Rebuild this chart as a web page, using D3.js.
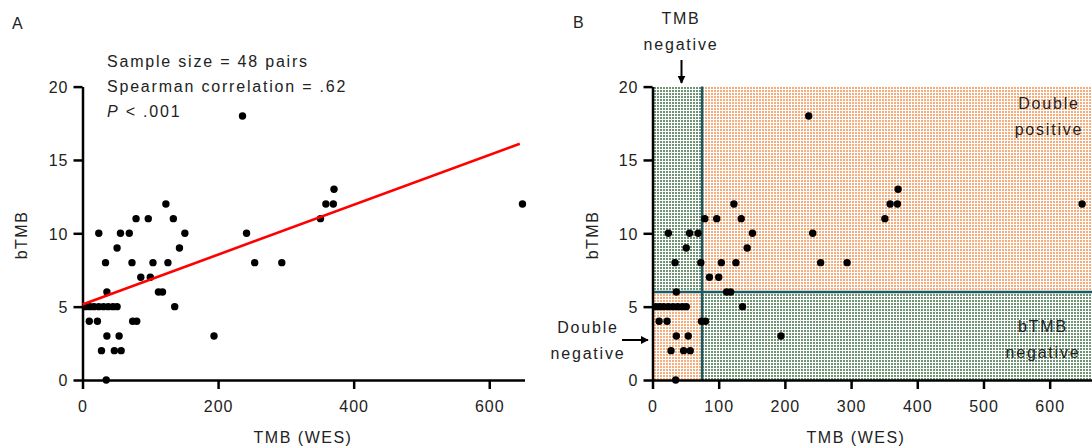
<!DOCTYPE html>
<html>
<head>
<meta charset="utf-8">
<script src="https://cdn.jsdelivr.net/npm/d3@7/dist/d3.min.js"></script>
<style>
  body { margin: 0; background: #fff; }
  text { font-family: "Liberation Sans", Arial, sans-serif; }
</style>
</head>
<body>
<svg width="1092" height="448"></svg>
<script>
// TMB (WES) vs bTMB, 48 pairs, same values in both panels
var tmbWes = [236, 371, 123, 359, 370, 649, 79, 97, 134, 351,
  24, 56, 69, 151, 242, 51, 143, 34, 73, 104, 126, 254, 294,
  86, 100, 36, 112, 118, 5, 11, 17, 24, 31, 38, 45, 51, 136,
  10, 22, 74, 80, 36, 54, 194, 28, 47, 57, 35];
var bTmb = [18, 13, 12, 12, 12, 12, 11, 11, 11, 11,
  10, 10, 10, 10, 10, 9, 9, 8, 8, 8, 8, 8, 8,
  7, 7, 6, 6, 6, 5, 5, 5, 5, 5, 5, 5, 5, 5,
  4, 4, 4, 4, 3, 3, 3, 2, 2, 2, 0];

// regression line end points
var fitX = [0, 645];
var fitY = [5.15, 16.1];

var statLines = ["Sample size = 48 pairs", "Spearman correlation = .62", "< .001"];
var yTicks = [0, 5, 10, 15, 20];
var xTicksA = [0, 200, 400, 600];
var xTicksB = [0, 100, 200, 300, 400, 500, 600];

// cut-offs for panel B
var tmbCut = 75;
var btmbCut = 6;

var svg = d3.select("svg");
svg.append("rect").attr("width", 1092).attr("height", 448).attr("fill", "#fff");

var defs = svg.append("defs");
function dots(id, color) {
  var p = defs.append("pattern").attr("id", id)
    .attr("width", 3).attr("height", 3)
    .attr("patternUnits", "userSpaceOnUse");
  p.append("rect").attr("width", 3).attr("height", 3).attr("fill", "#fff");
  p.append("rect").attr("width", 2).attr("height", 2).attr("fill", color);
}
dots("orangeDots", "#f7ac7c");
dots("greenDots", "#6f9474");

var y = d3.scaleLinear().domain([0, 20]).range([380, 86.6]);
var xA = d3.scaleLinear().domain([0, 652]).range([82.5, 524.5]);
var xB = d3.scaleLinear().domain([0, 665]).range([652.5, 1092.7]);

function styleAxis(g) {
  g.selectAll("path, line").attr("stroke", "#000").attr("stroke-width", 2.5);
  g.selectAll("text").attr("fill", "#222").attr("font-size", 16)
    .attr("letter-spacing", 1).attr("font-family", "Liberation Sans, Arial, sans-serif");
}

function drawAxes(x, xt) {
  svg.append("g").attr("transform", "translate(0,380)")
    .call(d3.axisBottom(x).tickValues(xt).tickSize(9).tickSizeOuter(0).tickPadding(12))
    .call(styleAxis);
  svg.append("g").attr("transform", "translate(" + x(0) + ",0)")
    .call(d3.axisLeft(y).tickValues(yTicks).tickSize(9).tickSizeOuter(0).tickPadding(5))
    .call(styleAxis)
    .selectAll(".tick text").attr("dy", "0.36em");
}

function axisTitles(cx, ly) {
  svg.append("text").attr("x", cx).attr("y", 443).attr("text-anchor", "middle")
    .attr("font-size", 16).attr("letter-spacing", 1.5).attr("fill", "#222")
    .text("TMB (WES)");
  svg.append("text").attr("transform", "translate(" + ly + ",235) rotate(-90)")
    .attr("text-anchor", "middle").attr("font-size", 16).attr("letter-spacing", 1.5)
    .attr("fill", "#222").text("bTMB");
}

function points(x) {
  svg.append("g").selectAll("circle")
    .data(tmbWes.map(function(d, i) { return [d, bTmb[i]]; }))
    .join("circle")
    .attr("cx", function(d) { return x(d[0]); })
    .attr("cy", function(d) { return y(d[1]); })
    .attr("r", 3.7)
    .attr("fill", "#000");
}

// ---- panel A ----
svg.append("text").attr("x", 12).attr("y", 29).attr("font-size", 16).attr("fill", "#222").text("A");

drawAxes(xA, xTicksA);
axisTitles(303, 27);
points(xA);

svg.append("path")
  .datum(fitX.map(function(d, i) { return [d, fitY[i]]; }))
  .attr("fill", "none").attr("stroke", "#ff0000").attr("stroke-width", 2.6)
  .attr("d", d3.line().x(function(d) { return xA(d[0]); }).y(function(d) { return y(d[1]); }));

var stat = svg.append("g");
statLines.forEach(function(s, i) {
  var t = stat.append("text").attr("x", 107).attr("y", 67 + i * 25)
    .attr("font-size", 16).attr("letter-spacing", 1.8).attr("fill", "#222");
  if (i == 2) {
    t.append("tspan").attr("font-style", "italic").text("P");
    t.append("tspan").text(" " + s);
  } else {
    t.text(s);
  }
});

// ---- panel B ----
svg.append("text").attr("x", 573).attr("y", 28).attr("font-size", 16).attr("fill", "#222").text("B");

var xMax = 665;
var quads = [
  [0, tmbCut, btmbCut, 20, "greenDots"],
  [tmbCut, xMax, btmbCut, 20, "orangeDots"],
  [0, tmbCut, 0, btmbCut, "orangeDots"],
  [tmbCut, xMax, 0, btmbCut, "greenDots"]
];
svg.append("g").selectAll("rect").data(quads).join("rect")
  .attr("x", function(d) { return xB(d[0]); })
  .attr("width", function(d) { return xB(d[1]) - xB(d[0]); })
  .attr("y", function(d) { return y(d[3]); })
  .attr("height", function(d) { return y(d[2]) - y(d[3]); })
  .attr("fill", function(d) { return "url(#" + d[4] + ")"; });

svg.append("line").attr("x1", xB(tmbCut)).attr("x2", xB(tmbCut))
  .attr("y1", y(0)).attr("y2", y(20)).attr("stroke", "#1b5866").attr("stroke-width", 2.5);
svg.append("line").attr("x1", xB(0)).attr("x2", xB(xMax))
  .attr("y1", y(btmbCut)).attr("y2", y(btmbCut)).attr("stroke", "#1b5866").attr("stroke-width", 2.5);

drawAxes(xB, xTicksB);
axisTitles(856, 598);
points(xB);

function label(cx, y0, lines) {
  lines.forEach(function(s, i) {
    svg.append("text").attr("x", cx).attr("y", y0 + i * 26).attr("text-anchor", "middle")
      .attr("font-size", 16).attr("letter-spacing", 1.8).attr("fill", "#222").text(s);
  });
}
label(681, 24, ["TMB", "negative"]);
label(588, 333, ["Double", "negative"]);
label(1049, 109, ["Double", "positive"]);
label(1043, 332, ["bTMB", "negative"]);

defs.append("marker").attr("id", "head").attr("viewBox", "0 0 10 10")
  .attr("refX", 9).attr("refY", 5).attr("markerWidth", 4).attr("markerHeight", 4)
  .attr("orient", "auto")
  .append("path").attr("d", "M0,0L10,5L0,10z").attr("fill", "#000");

svg.append("line").attr("x1", 681.5).attr("x2", 681.5).attr("y1", 60).attr("y2", 83)
  .attr("stroke", "#000").attr("stroke-width", 2).attr("marker-end", "url(#head)");
svg.append("line").attr("x1", 622).attr("x2", 648).attr("y1", 340).attr("y2", 340)
  .attr("stroke", "#000").attr("stroke-width", 2).attr("marker-end", "url(#head)");
</script>
</body>
</html>
